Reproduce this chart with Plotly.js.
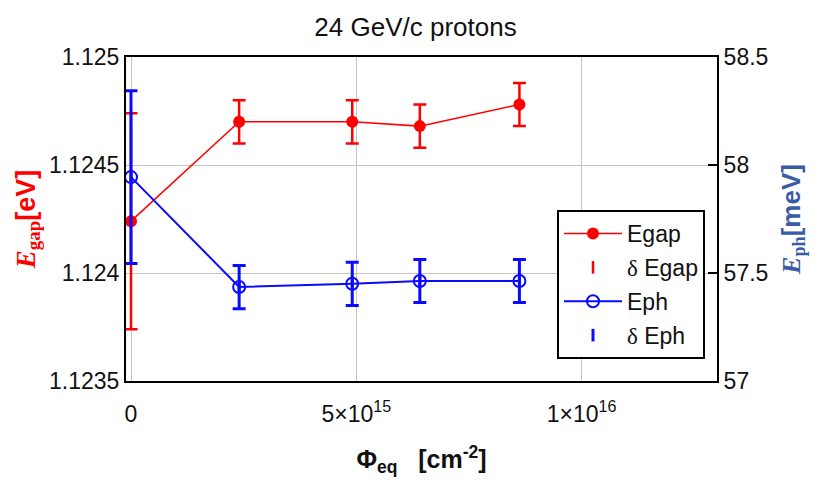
<!DOCTYPE html>
<html>
<head>
<meta charset="utf-8">
<script src="https://cdn.plot.ly/plotly-3.0.1.min.js"></script>
<style>html,body{margin:0;padding:0;background:#fff}</style>
</head>
<body>
<div id="chart" style="width:831px;height:490px"></div>
<script>
// equivalent fluence, cm^-2
const phiEq = [0, 2.40e15, 4.91e15, 6.41e15, 8.62e15];
// band gap, eV
const eGap = [1.12424, 1.12470, 1.12470, 1.12468, 1.12478];
const eGapErr = [0.0005, 0.0001, 0.0001, 0.0001, 0.0001];
// phonon energy, meV
const ePh = [57.944, 57.435, 57.450, 57.463, 57.463];
const ePhErr = [0.40, 0.10, 0.10, 0.10, 0.10];

const xTickVals = [0, 5e15, 1e16];
const xTickText = ['0', '5×10<sup>15</sup>', '1×10<sup>16</sup>'];

const RED = '#ff0000';
const BLUE = '#0a0aff';
const DELTA = '<span style="font-family:\'Liberation Serif\'">δ</span>';

const traces = [
    {
        x: phiEq, y: eGap, name: DELTA + ' Egap', legendrank: 2, legendgroup: 'b',
        type: 'scatter', mode: 'markers',
        marker: { symbol: 'line-ns-open', size: 9, color: RED, line: { color: RED, width: 2.5 } },
        error_y: { type: 'data', array: eGapErr, color: RED, thickness: 2.5, width: 6.5 },
    },
    {
        x: phiEq, y: eGap, name: 'Egap', legendrank: 1, legendgroup: 'a',
        type: 'scatter', mode: 'lines+markers',
        line: { color: RED, width: 1.5 },
        marker: { color: RED, size: 12 },
    },
    {
        x: phiEq, y: ePh, yaxis: 'y2', name: DELTA + ' Eph', legendrank: 4, legendgroup: 'd',
        type: 'scatter', mode: 'markers',
        marker: { symbol: 'line-ns-open', size: 9, color: BLUE, line: { color: BLUE, width: 3 } },
        error_y: { type: 'data', array: ePhErr, color: BLUE, thickness: 3, width: 6.5 },
    },
    {
        x: phiEq, y: ePh, yaxis: 'y2', name: 'Eph', legendrank: 3, legendgroup: 'c',
        type: 'scatter', mode: 'lines+markers',
        line: { color: BLUE, width: 2 },
        marker: { symbol: 'circle-open', size: 12, color: BLUE, line: { color: BLUE, width: 2 } },
    },
];

const tickFont = { family: 'Liberation Sans, Arial, sans-serif', size: 23, color: '#111' };

const layout = {
    width: 831,
    height: 490,
    margin: { l: 126, r: 114, t: 57, b: 109 },
    paper_bgcolor: '#fff',
    plot_bgcolor: '#fff',
    showlegend: true,
    title: {
        text: '24 GeV/c protons',
        font: { family: 'Liberation Sans, Arial, sans-serif', size: 26, color: '#111' },
        x: 0.5, xanchor: 'center', xref: 'container',
        y: 1 - 27 / 490, yanchor: 'middle', yref: 'container',
    },
    xaxis: {
        range: [-1.11e14, 1.3005e16],
        tickvals: xTickVals,
        ticktext: xTickText,
        tickfont: tickFont,
        ticks: '',
        showgrid: true, gridcolor: '#c4c4c4', gridwidth: 1,
        zeroline: false,
        showline: true, linecolor: '#000', linewidth: 2, mirror: true,
        ticklabelstandoff: 11,
        title: {
            text: '<b>Φ<sub>eq</sub>   [cm<sup>-2</sup>]</b>',
            font: { family: 'Liberation Sans, Arial, sans-serif', size: 25, color: '#111' },
            standoff: 25,
        },
    },
    yaxis: {
        range: [1.1235, 1.125],
        dtick: 0.0005,
        tick0: 1.1235,
        tickfont: tickFont,
        ticks: '',
        showgrid: true, gridcolor: '#c4c4c4', gridwidth: 1,
        zeroline: false,
        showline: true, linecolor: '#000', linewidth: 2, mirror: true,
        title: {
            text: '<b><span style="font-family:\'Liberation Serif\';font-style:italic">E</span><sub><span style="font-family:\'Liberation Serif\'">gap</span></sub>[eV]</b>',
            font: { family: 'Liberation Sans, Arial, sans-serif', size: 27, color: RED },
            standoff: 6,
        },
    },
    yaxis2: {
        overlaying: 'y',
        side: 'right',
        range: [57, 58.5],
        dtick: 0.5,
        tick0: 57,
        tickfont: tickFont,
        ticks: 'inside', ticklen: 9, tickwidth: 2, tickcolor: '#000',
        showgrid: false,
        zeroline: false,
        showline: true, linecolor: '#000', linewidth: 2,
        title: {
            text: '<b><span style="font-family:\'Liberation Serif\';font-style:italic">E</span><sub><span style="font-family:\'Liberation Serif\'">ph</span></sub>[meV]</b>',
            font: { family: 'Liberation Sans, Arial, sans-serif', size: 26, color: '#3a5ba6' },
            standoff: 14,
        },
    },
    legend: {
        x: (557 - 126) / 591, xanchor: 'left',
        y: (381 - 210) / 324, yanchor: 'top',
        bgcolor: '#fff',
        bordercolor: '#000', borderwidth: 2,
        font: { family: 'Liberation Sans, Arial, sans-serif', size: 23, color: '#111' },
        traceorder: 'grouped',
        tracegroupgap: 1,
        itemwidth: 58,
    },
};

Plotly.newPlot('chart', traces, layout, { displayModeBar: false, responsive: false });
</script>
</body>
</html>
